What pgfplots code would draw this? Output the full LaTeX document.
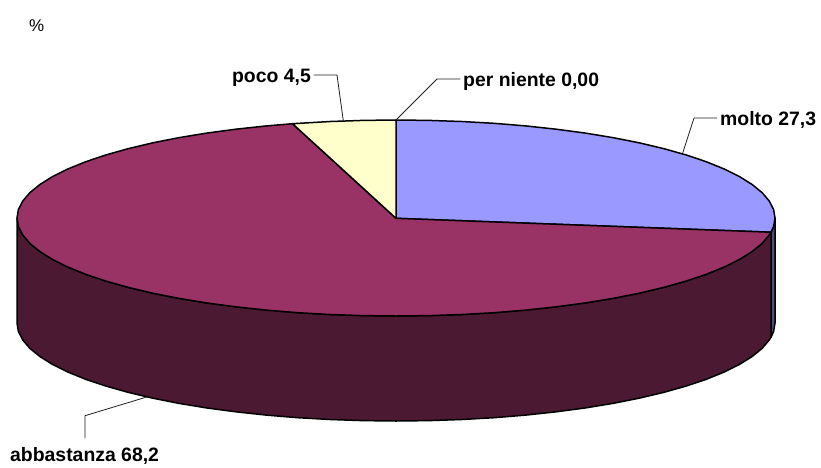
\documentclass[border=0pt]{standalone}
\usepackage{pgfplots}
\pgfplotsset{compat=1.18}
\usepackage{fontspec}
\setmainfont{Liberation Sans}
\definecolor{cblue}{HTML}{9999FF}
\definecolor{cmar}{HTML}{993366}
\definecolor{ccream}{HTML}{FFFFCC}
\definecolor{cmarside}{HTML}{4C1933}
\definecolor{cblueside}{HTML}{4C4C7F}
\definecolor{cleader}{HTML}{202020}
\begin{document}
\begin{tikzpicture}
\begin{axis}[
  scale only axis, width=821pt, height=467pt,
  xmin=0, xmax=821, ymin=0, ymax=467, y dir=reverse,
  hide axis, clip=false, no markers,
  every axis plot/.append style={line join=round, line cap=round},
]
\path (axis cs:0,0) rectangle (axis cs:821,467);
% side of the "molto" slice
\addplot[fill=cblueside, draw=black, line width=1.5pt] coordinates {
 (775,218) (773.6,226.5) (771,232.2) (771,337.2) (773.6,331.5) (775,323)
} --cycle;
% side of the "abbastanza" slice
\addplot[fill=cmarside, draw=black, line width=1.5pt] coordinates {
 (771,232.2) (769.2,235) (762.1,243.4) (752.1,251.5) (739.5,259.4) (724.2,267) (706.5,274.2) (686.3,281) (664,287.3) (639.6,293.1) (613.4,298.3) (585.5,302.9) (556.2,306.8) (525.6,310.1) (494.1,312.7) (461.8,314.5) (429,315.6) (396,316) (363,315.6) (330.2,314.5) (297.9,312.7) (266.4,310.1) (235.8,306.8) (206.5,302.9) (178.6,298.3) (152.4,293.1) (128,287.3) (105.7,281) (85.5,274.2) (67.8,267) (52.5,259.4) (39.9,251.5) (29.9,243.4) (22.8,235) (18.4,226.5) (17,218)
 (17,323) (18.4,331.5) (22.8,340) (29.9,348.4) (39.9,356.5) (52.5,364.4) (67.8,372) (85.5,379.2) (105.7,386) (128,392.3) (152.4,398.1) (178.6,403.3) (206.5,407.9) (235.8,411.8) (266.4,415.1) (297.9,417.7) (330.2,419.5) (363,420.6) (396,421) (429,420.6) (461.8,419.5) (494.1,417.7) (525.6,415.1) (556.2,411.8) (585.5,407.9) (613.4,403.3) (639.6,398.1) (664,392.3) (686.3,386) (706.5,379.2) (724.2,372) (739.5,364.4) (752.1,356.5) (762.1,348.4) (769.2,340) (771,337.2)
} --cycle;
% top: molto 27,3
\addplot[fill=cblue, draw=black, line width=1.5pt] coordinates {
 (396,218.3) (396,120) (429,120.4) (461.8,121.5) (494.1,123.3) (525.6,125.9) (556.2,129.2) (585.5,133.1) (613.4,137.7) (639.6,142.9) (664,148.7) (686.3,155) (706.5,161.8) (724.2,169) (739.5,176.6) (752.1,184.5) (762.1,192.6) (769.2,201) (773.6,209.5) (775,218) (773.6,226.5) (771,232.2)
} --cycle;
% top: abbastanza 68,2
\addplot[fill=cmar, draw=black, line width=1.5pt] coordinates {
 (396,218.3) (771,232.2) (769.2,235) (762.1,243.4) (752.1,251.5) (739.5,259.4) (724.2,267) (706.5,274.2) (686.3,281) (664,287.3) (639.6,293.1) (613.4,298.3) (585.5,302.9) (556.2,306.8) (525.6,310.1) (494.1,312.7) (461.8,314.5) (429,315.6) (396,316) (363,315.6) (330.2,314.5) (297.9,312.7) (266.4,310.1) (235.8,306.8) (206.5,302.9) (178.6,298.3) (152.4,293.1) (128,287.3) (105.7,281) (85.5,274.2) (67.8,267) (52.5,259.4) (39.9,251.5) (29.9,243.4) (22.8,235) (18.4,226.5) (17,218) (18.4,209.5) (22.8,201) (29.9,192.6) (39.9,184.5) (52.5,176.6) (67.8,169) (85.5,161.8) (105.7,155) (128,148.7) (152.4,142.9) (178.6,137.7) (206.5,133.1) (235.8,129.2) (266.4,125.9) (292.5,123.7)
} --cycle;
% top: poco 4,5
\addplot[fill=ccream, draw=black, line width=1.5pt] coordinates {
 (396,218.3) (292.5,123.7) (330.2,121.5) (363,120.4) (396,120)
} --cycle;
% leader lines
\addplot[cleader, line width=0.8pt] coordinates {(314,75) (337,75) (343.3,120.7)};
\addplot[cleader, line width=0.8pt] coordinates {(460,79) (437,79) (396,120)};
\addplot[cleader, line width=0.8pt] coordinates {(716.7,118) (694,118) (682.7,153)};
\addplot[cleader, line width=0.8pt] coordinates {(146.7,397) (85,415.7) (85,438)};
% labels
\node[anchor=base west, inner sep=0pt, font=\fontsize{17}{20}\selectfont] at (axis cs:29,31) {\%};
\node[anchor=base east, inner sep=0pt, font=\bfseries\fontsize{19.4}{22}\selectfont] at (axis cs:311,82) {poco 4,5};
\node[anchor=base west, inner sep=0pt, font=\bfseries\fontsize{19.4}{22}\selectfont] at (axis cs:463,86) {per niente 0,00};
\node[anchor=base west, inner sep=0pt, font=\bfseries\fontsize{19.4}{22}\selectfont] at (axis cs:720,125) {molto 27,3};
\node[anchor=base west, inner sep=0pt, font=\bfseries\fontsize{19.4}{22}\selectfont] at (axis cs:10,461.7) {abbastanza 68,2};
\end{axis}
\end{tikzpicture}
\end{document}
